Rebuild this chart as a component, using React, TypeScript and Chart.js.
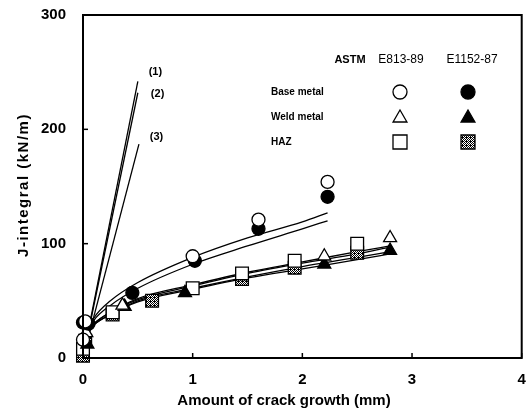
import React, { useEffect, useRef } from "react";
import { Chart, registerables } from "chart.js";

Chart.register(...registerables);

// ---- Data ----
const xTicks = [0, 1, 2, 3, 4];
const yTicks = [0, 100, 200, 300];

// measured points: [crack growth mm, J kN/m]
const baseOpen: [number, number][] = [[0.02, 32], [0.0, 16], [1.0, 89], [1.6, 121], [2.23, 154]];
const baseFilled: [number, number][] = [[0.0, 31], [0.05, 30], [0.45, 57], [1.02, 85], [1.6, 113], [2.23, 141]];
const weldOpen: [number, number][] = [[0.03, 22], [0.36, 46], [2.2, 89], [2.8, 105]];
const weldFilled: [number, number][] = [[0.04, 12], [0.38, 45], [0.93, 57], [2.2, 82], [2.8, 94]];
const hazOpen: [number, number][] = [[0.0, 8], [0.27, 40], [1.0, 61], [1.45, 74], [1.93, 85], [2.5, 100]];
const hazFilled: [number, number][] = [[0.0, 2], [0.02, 15], [0.27, 38], [0.63, 50], [1.45, 69], [1.93, 79], [2.5, 92]];

// fitted resistance curves
const curveX = [0.05, 0.1, 0.25, 0.5, 1.0, 1.5, 2.0, 2.23];
const baseFitA = [25, 35, 50, 66, 88, 105, 119, 127];
const baseFitB = [24, 33, 46, 61, 82, 98, 113, 120];
const curveX2 = [0.05, 0.1, 0.25, 0.5, 1.0, 1.5, 2.0, 2.5, 2.8];
const weldFitA = [24, 30, 40, 51, 63, 74, 83, 91, 97];
const weldFitB = [23, 29, 38, 49, 60, 70, 78, 86, 91];
const hazFitA = [24, 30, 40, 52, 64, 75, 84, 93, 98];
const hazFitB = [23, 29, 38, 50, 61, 71, 80, 88, 93];

// blunting lines (1), (2), (3): [start, end]
const blunt1: [number, number][] = [[0.03, 15], [0.5, 242]];
const blunt2: [number, number][] = [[0.03, 14], [0.5, 232]];
const blunt3: [number, number][] = [[0.03, 11], [0.51, 187]];

const bluntLabels = [
  { text: "(1)", x: 0.66, y: 250 },
  { text: "(2)", x: 0.68, y: 231 },
  { text: "(3)", x: 0.67, y: 193 },
];

const legendCols = ["ASTM", "E813-89", "E1152-87"];
const legendRows = ["Base metal", "Weld metal", "HAZ"];

const xTitle = "Amount of crack growth (mm)";
const yTitle = "J-integral (kN/m)";

const FONT = "'Liberation Sans', Arial, sans-serif";

function toPts(a: [number, number][]) {
  return a.map(([x, y]) => ({ x, y }));
}
function toCurve(xs: number[], ys: number[]) {
  return xs.map((x, i) => ({ x, y: ys[i] }));
}

function makePattern(): CanvasPattern | string {
  const c = document.createElement("canvas");
  c.width = 4;
  c.height = 4;
  const g = c.getContext("2d");
  if (!g) return "#777";
  g.fillStyle = "#fff";
  g.fillRect(0, 0, 4, 4);
  g.fillStyle = "#000";
  const dots = [[0, 0], [2, 0], [1, 1], [3, 1], [0, 2], [2, 2], [3, 3], [1, 3], [2, 1]];
  dots.forEach(([a, b]) => g.fillRect(a, b, 1, 1));
  const p = g.createPattern(c, "repeat");
  return p || "#777";
}

const CW = 532; // canvas a bit wider than the window: point overflow padding pushes the plot edge in
const CH = 412;

export default function App() {
  const ref = useRef<HTMLCanvasElement | null>(null);

  useEffect(() => {
    if (!ref.current) return;
    const pattern = makePattern();

    const markerDs = (label: string, data: [number, number][], style: string, filled: boolean | "pattern", r: number) => ({
      label,
      data: toPts(data),
      showLine: false,
      pointStyle: style,
      pointRadius: r,
      pointBackgroundColor: filled === "pattern" ? pattern : filled ? "#000" : "#fff",
      pointBorderColor: "#000",
      pointBorderWidth: 1.3,
      order: 1,
      clip: false as any,
    });
    const lineDs = (label: string, data: { x: number; y: number }[]) => ({
      label,
      data,
      showLine: true,
      pointRadius: 0,
      borderColor: "#000",
      borderWidth: 1.3,
      cubicInterpolationMode: "monotone" as const,
      fill: false,
      order: 2,
    });

    const drawMarker = (ctx: CanvasRenderingContext2D, style: string, fill: any, x: number, y: number) => {
      ctx.save();
      ctx.fillStyle = fill;
      ctx.strokeStyle = "#000";
      ctx.lineWidth = 1.3;
      ctx.beginPath();
      if (style === "circle") ctx.arc(x, y, 7, 0, Math.PI * 2);
      else if (style === "triangle") {
        const r = 8;
        ctx.moveTo(x, y - r);
        ctx.lineTo(x + r * 0.866, y + r * 0.5);
        ctx.lineTo(x - r * 0.866, y + r * 0.5);
        ctx.closePath();
      } else ctx.rect(x - 7, y - 7, 14, 14);
      ctx.fill();
      ctx.stroke();
      ctx.restore();
    };

    const framePlugin = {
      id: "frame",
      afterDraw(chart: any) {
        const { ctx, chartArea: a, scales } = chart;
        ctx.save();
        ctx.strokeStyle = "#000";
        ctx.lineWidth = 2;
        ctx.strokeRect(a.left, a.top, a.right - a.left, a.bottom - a.top);
        ctx.lineWidth = 1.5;
        xTicks.forEach((v) => {
          const px = scales.x.getPixelForValue(v);
          ctx.beginPath();
          ctx.moveTo(px, a.bottom);
          ctx.lineTo(px, a.bottom - 5);
          ctx.stroke();
        });
        yTicks.forEach((v) => {
          const py = scales.y.getPixelForValue(v);
          ctx.beginPath();
          ctx.moveTo(a.left, py);
          ctx.lineTo(a.left + 5, py);
          ctx.stroke();
        });
        // blunting line labels
        ctx.fillStyle = "#000";
        ctx.font = `bold 11px ${FONT}`;
        ctx.textAlign = "center";
        ctx.textBaseline = "middle";
        bluntLabels.forEach((l) => {
          ctx.fillText(l.text, scales.x.getPixelForValue(l.x), scales.y.getPixelForValue(l.y));
        });
        // axis titles
        ctx.font = `bold 15px ${FONT}`;
        ctx.fillText(xTitle, 284, 401);
        ctx.save();
        ctx.translate(24, 185);
        ctx.rotate(-Math.PI / 2);
        (ctx as any).letterSpacing = "1.5px";
        ctx.fillText(yTitle, 0, 0);
        ctx.restore();
        // legend table
        ctx.font = `bold 11px ${FONT}`;
        ctx.fillText(legendCols[0], 350, 60);
        ctx.font = `12px ${FONT}`;
        ctx.fillText(legendCols[1], 401, 60);
        ctx.fillText(legendCols[2], 472, 60);
        ctx.font = `bold 10px ${FONT}`;
        ctx.textAlign = "left";
        const rowsY = [92, 117, 142];
        legendRows.forEach((t, i) => ctx.fillText(t, 271, rowsY[i]));
        drawMarker(ctx, "circle", "#fff", 400, rowsY[0]);
        drawMarker(ctx, "circle", "#000", 468, rowsY[0]);
        drawMarker(ctx, "triangle", "#fff", 400, rowsY[1] + 1);
        drawMarker(ctx, "triangle", "#000", 468, rowsY[1] + 1);
        drawMarker(ctx, "rect", "#fff", 400, rowsY[2]);
        drawMarker(ctx, "rect", pattern, 468, rowsY[2]);
        ctx.restore();
      },
    };

    const chart = new Chart(ref.current, {
      type: "scatter",
      data: {
        datasets: [
          markerDs("Base E813-89", baseOpen, "circle", false, 6.5),
          markerDs("Base E1152-87", baseFilled, "circle", true, 6.5),
          markerDs("Weld E813-89", weldOpen, "triangle", false, 7.5),
          markerDs("Weld E1152-87", weldFilled, "triangle", true, 7.5),
          markerDs("HAZ E813-89", hazOpen, "rect", false, 9),
          markerDs("HAZ E1152-87", hazFilled, "rect", "pattern", 9),
          lineDs("Base fit A", toCurve(curveX, baseFitA)),
          lineDs("Base fit B", toCurve(curveX, baseFitB)),
          lineDs("Weld fit A", toCurve(curveX2, weldFitA)),
          lineDs("Weld fit B", toCurve(curveX2, weldFitB)),
          lineDs("HAZ fit A", toCurve(curveX2, hazFitA)),
          lineDs("HAZ fit B", toCurve(curveX2, hazFitB)),
          lineDs("(1)", toPts(blunt1)),
          lineDs("(2)", toPts(blunt2)),
          lineDs("(3)", toPts(blunt3)),
        ] as any,
      },
      options: {
        animation: false,
        responsive: false,
        maintainAspectRatio: false,
        layout: { padding: { top: 15, right: 4, left: 0, bottom: 0 } },
        plugins: { legend: { display: false }, tooltip: { enabled: false } },
        scales: {
          x: {
            type: "linear",
            min: 0,
            max: 4,
            afterBuildTicks: (s: any) => {
              s.ticks = xTicks.map((v) => ({ value: v }));
            },
            afterFit: (s: any) => {
              s.height = 54;
              s.paddingLeft = 0;
              s.paddingRight = 0;
            },
            ticks: { color: "#000", font: { family: FONT, size: 15, weight: "bold" }, padding: 13, maxRotation: 0 },
            grid: { display: false, drawTicks: false },
            border: { display: true, color: "#000", width: 2 },
          },
          y: {
            type: "linear",
            min: 0,
            max: 300,
            afterBuildTicks: (s: any) => {
              s.ticks = yTicks.map((v) => ({ value: v }));
            },
            afterFit: (s: any) => {
              s.width = 83;
              s.paddingTop = 0;
              s.paddingBottom = 0;
            },
            ticks: { color: "#000", font: { family: FONT, size: 15, weight: "bold" }, padding: 17 },
            grid: { display: false, drawTicks: false },
            border: { display: true, color: "#000", width: 2 },
          },
        },
      } as any,
      plugins: [framePlugin],
    });
    return () => chart.destroy();
  }, []);

  return (
    <div style={{ position: "fixed", left: 0, top: 0, width: 526, height: 412, overflow: "hidden", background: "#fff" }}>
      <canvas ref={ref} width={CW} height={CH} style={{ width: CW, height: CH, display: "block" }} />
    </div>
  );
}
